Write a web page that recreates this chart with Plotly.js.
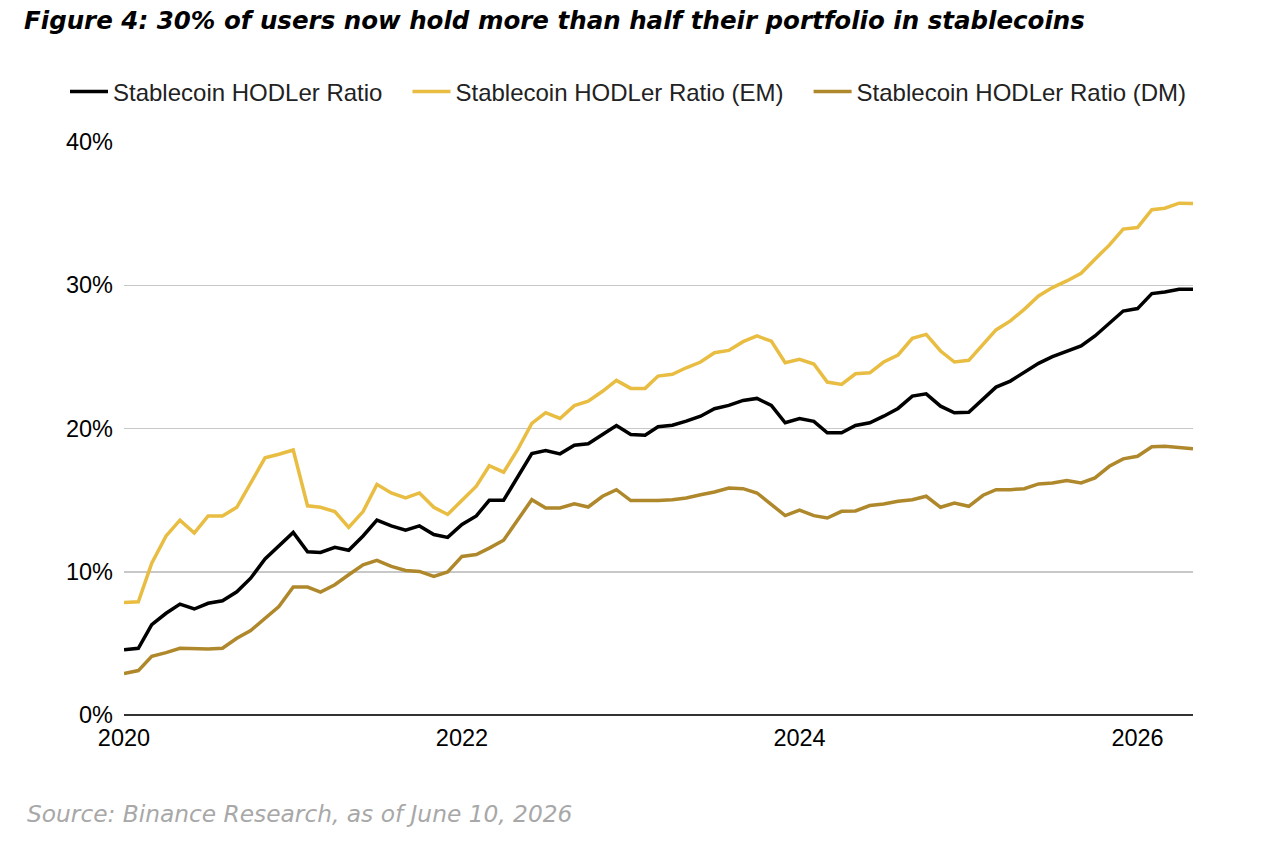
<!DOCTYPE html>
<html>
<head>
<meta charset="utf-8">
<script src="https://cdn.plot.ly/plotly-3.0.1.min.js"></script>
<style>
  html, body { margin: 0; padding: 0; background: #fff; }
  #chart { width: 1278px; height: 844px; }
</style>
</head>
<body>
<div id="chart"></div>
<script>
// Monthly readings, Jan 2020 .. May 2026 (percent of users)
const START_YEAR = 2020;
const N_MONTHS = 77;

const hodlerAll = [
  4.55, 4.66, 6.3, 7.1, 7.74, 7.4, 7.8, 7.97, 8.6, 9.55, 10.9, 11.8,
  12.75, 11.4, 11.35, 11.7, 11.5, 12.5, 13.6, 13.2, 12.9, 13.2, 12.6, 12.4,
  13.3, 13.9, 14.99, 14.99, 16.55, 18.25, 18.46, 18.23, 18.83, 18.93, 19.58, 20.21,
  19.58, 19.53, 20.12, 20.23, 20.51, 20.86, 21.38, 21.61, 21.96, 22.1, 21.61, 20.4,
  20.7, 20.5, 19.7, 19.7, 20.21, 20.4, 20.86, 21.4, 22.26, 22.42, 21.56, 21.1,
  21.14, 22.03, 22.89, 23.31, 23.89, 24.55, 25.01, 25.41, 25.76, 26.46, 27.32, 28.2,
  28.37, 29.42, 29.53, 29.72, 29.72
];

const hodlerEM = [
  7.85, 7.9, 10.6, 12.5, 13.6, 12.7, 13.9, 13.9, 14.5, 16.2, 17.95, 18.2,
  18.5, 14.6, 14.5, 14.2, 13.1, 14.2, 16.1, 15.5, 15.15, 15.5, 14.5, 14.0,
  15.0, 15.97, 17.4, 16.95, 18.5, 20.35, 21.1, 20.7, 21.6, 21.9, 22.6, 23.36,
  22.8, 22.8, 23.66, 23.78, 24.24, 24.64, 25.29, 25.45, 26.06, 26.46, 26.1, 24.59,
  24.83, 24.5, 23.24, 23.08, 23.82, 23.89, 24.64, 25.13, 26.29, 26.57, 25.41, 24.64,
  24.76, 25.87, 26.88, 27.51, 28.32, 29.25, 29.84, 30.3, 30.84, 31.82, 32.8, 33.92,
  34.03, 35.27, 35.38, 35.73, 35.7
];

const hodlerDM = [
  2.9, 3.1, 4.1, 4.35, 4.66, 4.63, 4.6, 4.66, 5.36, 5.9, 6.76, 7.57,
  8.93, 8.93, 8.58, 9.09, 9.79, 10.49, 10.79, 10.37, 10.09, 10.02, 9.67, 9.98,
  11.07, 11.2, 11.65, 12.2, 13.6, 15.03, 14.45, 14.45, 14.75, 14.52, 15.27, 15.73,
  14.97, 14.94, 14.97, 15.03, 15.15, 15.38, 15.57, 15.85, 15.8, 15.5, 14.69, 13.92,
  14.3, 13.92, 13.75, 14.22, 14.24, 14.62, 14.73, 14.92, 15.03, 15.27, 14.5, 14.8,
  14.57, 15.34, 15.73, 15.73, 15.8, 16.13, 16.2, 16.36, 16.2, 16.55, 17.36, 17.88,
  18.06, 18.72, 18.76, 18.65, 18.58
];

const yearTicks = ['2020-01-01', '2022-01-01', '2024-01-01', '2026-01-01'];
const yearLabels = ['2020', '2022', '2024', '2026'];

const months = [];
for (let i = 0; i < N_MONTHS; i++) {
    const y = START_YEAR + Math.floor(i / 12);
    const m = (i % 12) + 1;
    months.push(`${y}-${String(m).padStart(2, '0')}-01`);
}

const COLORS = { all: '#000000', em: '#E8BD42', dm: '#AF882C' };
// a bit of air after each legend entry, like the original
const LEGEND_PAD = '\u00a0\u00a0\u00a0';

function line(name, values, color) {
    return {
        type: 'scatter',
        mode: 'lines',
        name: name + LEGEND_PAD,
        x: months,
        y: values,
        line: { color: color, width: 3.5 },
        hoverinfo: 'skip',
    };
}

const data = [
    line('Stablecoin HODLer Ratio', hodlerAll, COLORS.all),
    line('Stablecoin HODLer Ratio (EM)', hodlerEM, COLORS.em),
    line('Stablecoin HODLer Ratio (DM)', hodlerDM, COLORS.dm),
];

const layout = {
    width: 1278,
    height: 844,
    margin: { l: 124, r: 85, t: 142, b: 129 },
    paper_bgcolor: '#ffffff',
    plot_bgcolor: '#ffffff',
    font: { family: 'Liberation Sans, Arial, sans-serif', size: 23, color: '#111' },
    title: {
        text: 'Figure 4: 30% of users now hold more than half their portfolio in stablecoins',
        font: { family: 'DejaVu Sans, sans-serif', size: 24.5, color: '#000', weight: 700, style: 'italic' },
        xref: 'container', yref: 'container',
        x: 24 / 1278, xanchor: 'left',
        y: 1 - 20 / 844, yanchor: 'middle',
    },
    showlegend: true,
    legend: {
        orientation: 'h',
        x: (65 - 124) / 1069, xanchor: 'left',
        y: 1 + 50 / 573, yanchor: 'middle',
        itemwidth: 38,
        font: { size: 24, color: '#222' },
        traceorder: 'normal',
    },
    xaxis: {
        type: 'date',
        range: ['2020-01-01', '2026-05-01'],
        tickvals: yearTicks,
        ticktext: yearLabels,
        showgrid: false,
        zeroline: false,
        showline: false,
        ticks: '',
        ticklabelstandoff: 6,
        tickfont: { size: 23.5, color: '#000' },
        fixedrange: true,
    },
    yaxis: {
        range: [0, 40],
        dtick: 10,
        ticksuffix: '%',
        showgrid: true,
        gridcolor: '#c8c8c8',
        gridwidth: 1.5,
        zeroline: true,
        zerolinecolor: '#333333',
        zerolinewidth: 2,
        showline: false,
        ticks: '',
        ticklabelstandoff: 10,
        tickfont: { size: 23.5, color: '#000' },
        fixedrange: true,
    },
    annotations: [{
        text: 'Source: Binance Research, as of June 10, 2026',
        xref: 'paper', yref: 'paper',
        x: (25 - 124) / 1069, xanchor: 'left',
        y: -(813 - 715) / 573, yanchor: 'middle',
        showarrow: false,
        font: { family: 'DejaVu Sans, sans-serif', size: 23.3, color: '#a8a8a8', style: 'italic', weight: 200 },
    }],
};

Plotly.newPlot('chart', data, layout, { displayModeBar: false, staticPlot: true });
</script>
</body>
</html>
